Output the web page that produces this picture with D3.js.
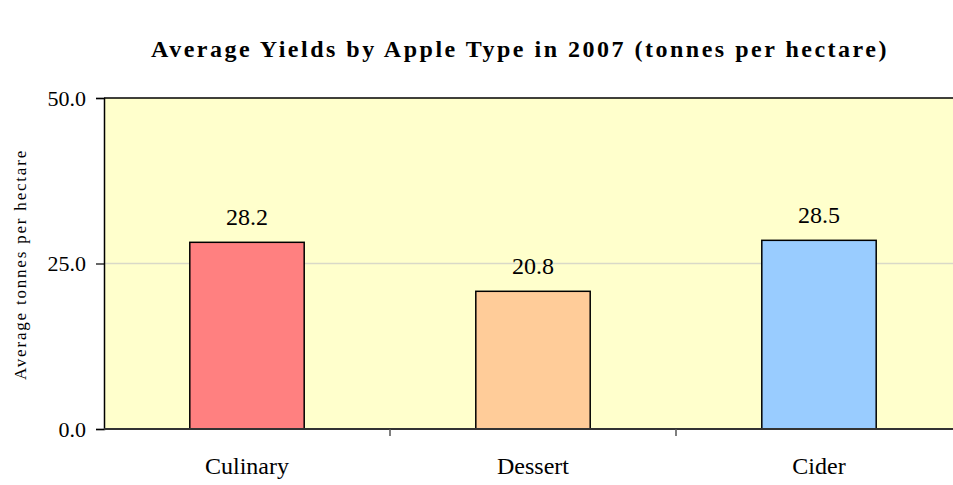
<!DOCTYPE html>
<html>
<head>
<meta charset="utf-8">
<script src="https://cdn.jsdelivr.net/npm/d3@7"></script>
<style>
  html, body { margin:0; padding:0; background:#fff; }
  svg { display:block; font-family:"Liberation Serif","Times New Roman",serif; }
</style>
</head>
<body>
<svg id="chart" width="953" height="485"></svg>
<script>
// ===== data =====
const categories = ['Culinary', 'Dessert', 'Cider'];
const yields = [28.2, 20.8, 28.5];
const barColors = ['#ff8080', '#ffcc99', '#99ccff'];
const yTicks = [0, 25, 50];

const svg = d3.select('#chart');
const M = {top:98, right:-9, bottom:56, left:104};
const W = 953, H = 485;
const innerW = W - M.left - M.right;
const innerH = H - M.top - M.bottom;

const x = d3.scaleBand().domain(categories).range([0, innerW])
  .paddingInner(0.6).paddingOuter(0.3);
const xCat = d3.scaleBand().domain(categories).range([0, innerW]).padding(0);
const y = d3.scaleLinear().domain([0, 50]).range([innerH, 0]);

// title
svg.append('text')
  .attr('x', 520).attr('y', 57)
  .attr('text-anchor', 'middle')
  .style('font-weight', 'bold')
  .style('font-size', '24px')
  .style('letter-spacing', '2.5px')
  .text('Average Yields by Apple Type in 2007 (tonnes per hectare)');

const g = svg.append('g').attr('transform', `translate(${M.left},${M.top})`);

// plot background
g.append('rect')
  .attr('x', 0).attr('y', 0)
  .attr('width', innerW).attr('height', innerH)
  .attr('fill', '#ffffcc');

// gridlines
g.selectAll('line.grid').data(yTicks.filter(d => d > 0 && d < 50)).join('line')
  .attr('class', 'grid')
  .attr('x1', 0).attr('x2', innerW)
  .attr('y1', d => y(d)).attr('y2', d => y(d))
  .attr('stroke', '#d9d9c8').attr('stroke-width', 1.5);

// top border
g.append('line')
  .attr('x1', 0).attr('x2', innerW).attr('y1', 0).attr('y2', 0)
  .attr('stroke', '#000').attr('stroke-width', 1.5);

// bars
g.selectAll('rect.bar').data(categories).join('rect')
  .attr('class', 'bar')
  .attr('x', d => x(d))
  .attr('width', x.bandwidth())
  .attr('y', (d, i) => y(yields[i]))
  .attr('height', (d, i) => innerH - y(yields[i]))
  .attr('fill', (d, i) => barColors[i])
  .attr('stroke', '#000').attr('stroke-width', 1.5);

// value labels
g.selectAll('text.val').data(categories).join('text')
  .attr('class', 'val')
  .attr('x', d => x(d) + x.bandwidth() / 2)
  .attr('y', (d, i) => y(yields[i]) - 17)
  .attr('text-anchor', 'middle')
  .style('font-size', '24px')
  .text((d, i) => yields[i].toFixed(1));

// y axis
const yAxisG = g.append('g')
  .call(d3.axisLeft(y).tickValues(yTicks).tickFormat(d3.format('.1f')).tickSize(8).tickPadding(10));
yAxisG.select('.domain').attr('stroke', '#000').attr('stroke-width', 1.5);
yAxisG.selectAll('.tick line').attr('stroke', '#000').attr('stroke-width', 1.2);
yAxisG.selectAll('.tick text')
  .style('font-family', '"Liberation Serif","Times New Roman",serif')
  .style('font-size', '22px').attr('fill', '#000');

// x axis
const xAxisG = g.append('g').attr('transform', `translate(0,${innerH})`);
xAxisG.append('line')
  .attr('x1', 0).attr('x2', innerW)
  .attr('stroke', '#333').attr('stroke-width', 2);
xAxisG.selectAll('line.tk').data(categories.slice(1)).join('line')
  .attr('class', 'tk')
  .attr('x1', d => xCat(d)).attr('x2', d => xCat(d))
  .attr('y1', 0).attr('y2', 7)
  .attr('stroke', '#555').attr('stroke-width', 1.5);
xAxisG.selectAll('text.cat').data(categories).join('text')
  .attr('class', 'cat')
  .attr('x', d => xCat(d) + xCat.bandwidth() / 2)
  .attr('y', 45)
  .attr('text-anchor', 'middle')
  .style('font-size', '24px')
  .text(d => d);

// y axis title
svg.append('text')
  .attr('transform', `translate(26,${M.top + innerH / 2 + 1}) rotate(-90)`)
  .attr('text-anchor', 'middle')
  .style('font-size', '17px')
  .style('letter-spacing', '1.8px')
  .text('Average tonnes per hectare');
</script>
</body>
</html>
